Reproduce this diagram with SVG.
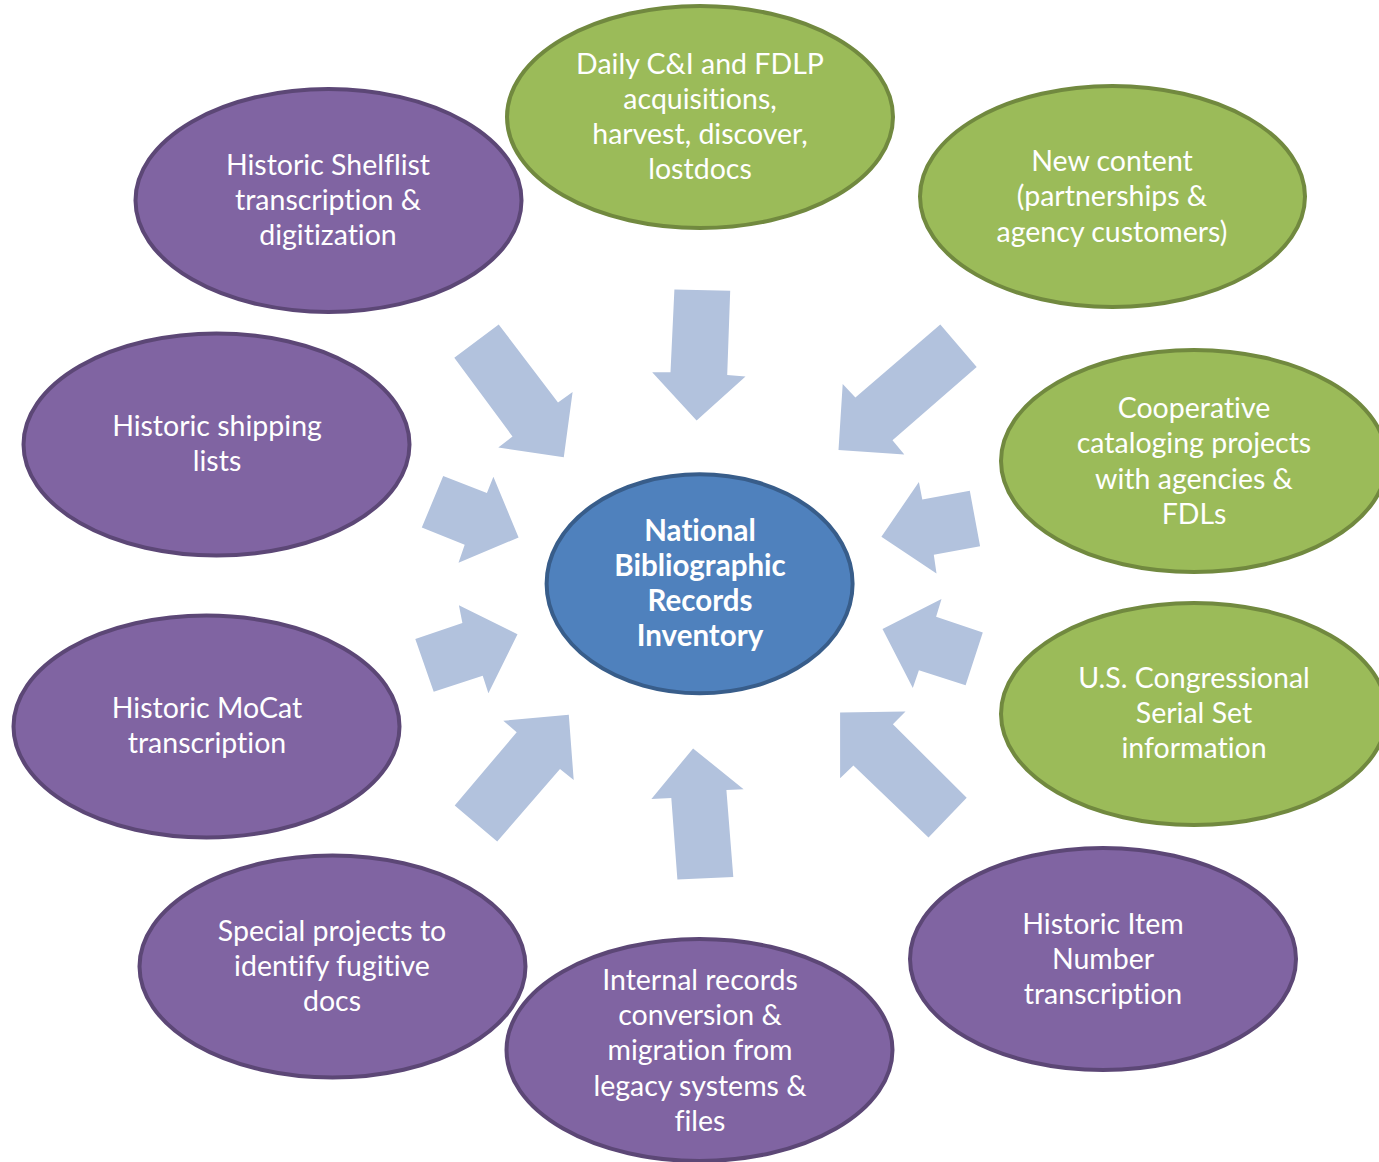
<svg xmlns="http://www.w3.org/2000/svg" width="1379" height="1162" viewBox="0 0 1379 1162">
<style>
.g{fill:#9bbb59;stroke:#71893f;stroke-width:4}
.p{fill:#8064a2;stroke:#5c4776;stroke-width:4}
.c{fill:#4f81bd;stroke:#385d8a;stroke-width:4}
.a{fill:#b2c2dd}
text{font-family:Lato,"Open Sans",sans-serif;font-size:28.5px;fill:#fff;text-anchor:middle;font-variant-ligatures:none;font-feature-settings:"liga" 0,"dlig" 0}
.b{font-weight:bold;font-size:29.5px}
</style>
<rect width="1379" height="1162" fill="#fff"/>
<g id="connectors">
<polygon class="a" points="454.3,357.7 498.7,324.4 558,402.4 572.6,392.1 563.8,457.2 498.3,447.6 512.5,436.5"/>
<polygon class="a" points="674.4,289.6 730.2,290.7 727.2,374.9 745.5,376.4 696.6,420.4 652.2,372.2 670.5,372.2"/>
<polygon class="a" points="940.3,324.4 976.7,366.9 892.5,440.3 904.3,454.5 838.5,449.9 842.7,384.1 855.4,397.5"/>
<polygon class="a" points="969.8,490.8 980.1,546.3 933.8,554.7 936.5,573.5 881.4,536.8 918.9,482 922.3,499.6"/>
<polygon class="a" points="982.8,632.4 965.6,685.2 918.9,670.3 912.8,687.9 882.5,629 941.5,599.1 936.1,616.7"/>
<polygon class="a" points="966.7,797.7 928.5,837.5 853.4,765.6 840.1,778.2 840.1,712.4 905.5,711.6 892.9,724.3"/>
<polygon class="a" points="733.3,877 677.4,879.6 671.3,798.1 651.4,798.9 693.1,748.4 743.6,789.3 726.4,790.1"/>
<polygon class="a" points="454.7,805.4 516.7,732.3 503.3,720.8 568.8,714.7 573.7,780.1 560,769 497.2,841.4"/>
<polygon class="a" points="415.3,638.9 462.4,622.9 458.9,605.3 517.5,634.3 488.4,693.3 482.7,675.7 433.7,691.7"/>
<polygon class="a" points="443.2,475.9 486.9,493.1 493.4,476.7 518.6,537.5 458.5,562.8 464.7,544.8 421.8,527.6"/>
</g>
<g id="center">
<ellipse class="c" cx="699.6" cy="583.8" rx="153" ry="109.5"/>
<text class="b"><tspan x="700" y="541">National</tspan><tspan x="700" y="576">Bibliographic</tspan><tspan x="700" y="611">Records</tspan><tspan x="700" y="646">Inventory</tspan></text>
</g>
<g id="n-daily">
<ellipse class="g" cx="700" cy="117" rx="193" ry="111"/>
<text><tspan x="700" y="74">Daily C&amp;I and FDLP</tspan><tspan x="700" y="109">acquisitions,</tspan><tspan x="700" y="144">harvest, discover,</tspan><tspan x="700" y="179">lostdocs</tspan></text>
</g>
<g id="n-new">
<ellipse class="g" cx="1112.5" cy="196.5" rx="192.5" ry="110.5"/>
<text><tspan x="1112" y="171">New content</tspan><tspan x="1112" y="206">(partnerships &amp;</tspan><tspan x="1112" y="242">agency customers)</tspan></text>
</g>
<g id="n-coop">
<ellipse class="g" cx="1194" cy="461" rx="193" ry="111"/>
<text><tspan x="1194" y="418">Cooperative</tspan><tspan x="1194" y="453">cataloging projects</tspan><tspan x="1194" y="489">with agencies &amp;</tspan><tspan x="1194" y="524">FDLs</tspan></text>
</g>
<g id="n-serial">
<ellipse class="g" cx="1194" cy="714" rx="193" ry="111"/>
<text><tspan x="1194" y="688">U.S. Congressional</tspan><tspan x="1194" y="723">Serial Set</tspan><tspan x="1194" y="758">information</tspan></text>
</g>
<g id="n-item">
<ellipse class="p" cx="1103" cy="959" rx="193" ry="111"/>
<text><tspan x="1103" y="934">Historic Item</tspan><tspan x="1103" y="969">Number</tspan><tspan x="1103" y="1004">transcription</tspan></text>
</g>
<g id="n-internal">
<ellipse class="p" cx="699.5" cy="1050" rx="193" ry="111"/>
<text><tspan x="700" y="990">Internal records</tspan><tspan x="700" y="1025">conversion &amp;</tspan><tspan x="700" y="1060">migration from</tspan><tspan x="700" y="1096">legacy systems &amp;</tspan><tspan x="700" y="1131">files</tspan></text>
</g>
<g id="n-special">
<ellipse class="p" cx="332.5" cy="966.5" rx="193" ry="111"/>
<text><tspan x="332" y="941">Special projects to</tspan><tspan x="332" y="976">identify fugitive</tspan><tspan x="332" y="1011">docs</tspan></text>
</g>
<g id="n-mocat">
<ellipse class="p" cx="206.5" cy="726.5" rx="193" ry="111"/>
<text><tspan x="207" y="718">Historic MoCat</tspan><tspan x="207" y="753">transcription</tspan></text>
</g>
<g id="n-shipping">
<ellipse class="p" cx="216.5" cy="444.5" rx="193" ry="111"/>
<text><tspan x="217" y="436">Historic shipping</tspan><tspan x="217" y="471">lists</tspan></text>
</g>
<g id="n-shelflist">
<ellipse class="p" cx="328.5" cy="200.5" rx="193" ry="111.5"/>
<text><tspan x="328" y="175">Historic Shelflist</tspan><tspan x="328" y="210">transcription &amp;</tspan><tspan x="328" y="245">digitization</tspan></text>
</g>
</svg>
